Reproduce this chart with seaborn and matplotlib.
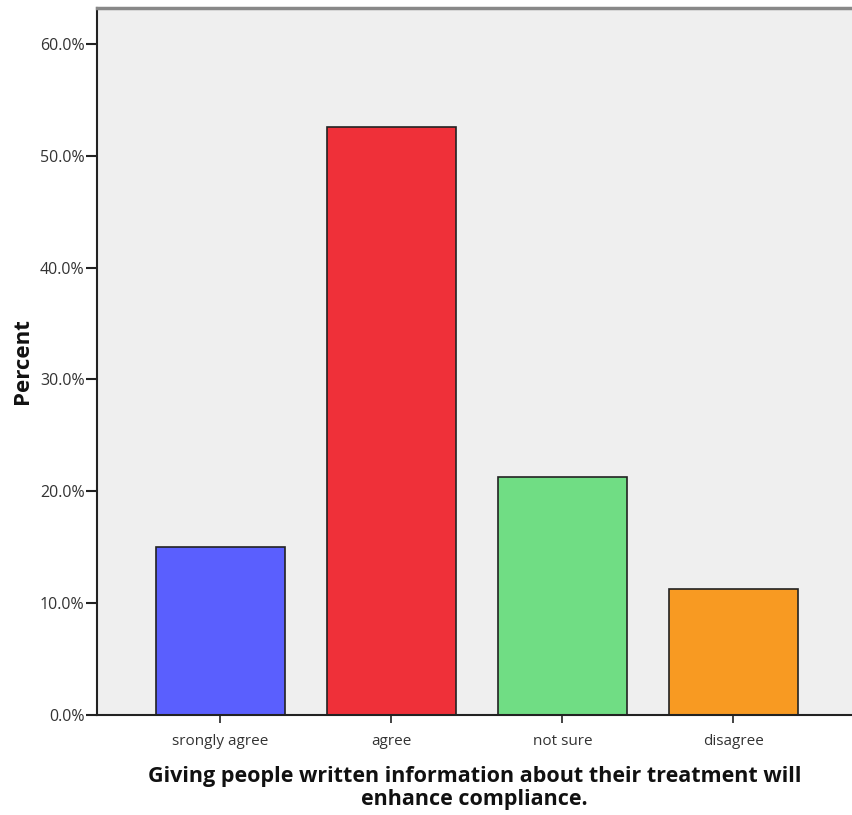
import matplotlib
matplotlib.use("Agg")
import matplotlib.pyplot as plt
import seaborn as sns
import pandas as pd

categories = ["srongly agree", "agree", "not sure", "disagree"]
percents = [15.0, 52.6, 21.3, 11.3]
colors = ["#5A5FFE", "#EF3039", "#70DD84", "#F89A22"]
yticks = [0, 10, 20, 30, 40, 50, 60]

sns.set_theme(style="white")
plt.rcParams['font.family'] = ['Open Sans', 'DejaVu Sans']

df = pd.DataFrame({"cat": categories, "pct": percents})

fig = plt.figure(figsize=(8.52, 8.15), dpi=100)
ax = fig.add_axes([97/852, 100/815, 1 - 97/852, 707/815])
ax.set_facecolor("#EFEFEF")

sns.barplot(data=df, x="cat", y="pct", hue="cat", palette=colors, legend=False,
            width=0.754, edgecolor="#222222", linewidth=1.2, ax=ax, saturation=1)

ax.set_xlim(-0.722, 3.693)
ax.set_ylim(0, 63.2)
ax.set_yticks(yticks)
ax.set_yticklabels([f"{v:.1f}%" for v in yticks], fontsize=11.5, color="#333333")
ax.set_xticks(range(len(categories)))
ax.set_xticklabels(categories, fontsize=11, color="#333333")
ax.tick_params(axis="y", left=True, direction="out", length=8, width=1.5, color="#222222", pad=1)
ax.tick_params(axis="x", bottom=True, direction="out", length=6, width=1.2, color="#222222", pad=8)

ax.set_ylabel("Percent", fontsize=16, fontweight="bold", labelpad=5, color="#111111")
ax.set_xlabel("Giving people written information about their treatment will\nenhance compliance.",
              fontsize=15.5, fontweight="bold", labelpad=12, color="#111111", linespacing=1.1)

for s in ["left", "bottom"]:
    ax.spines[s].set_color("#222222")
    ax.spines[s].set_linewidth(1.5)
ax.spines["top"].set_color("#888888")
ax.spines["top"].set_linewidth(2.5)
ax.spines["right"].set_visible(False)

fig.savefig("out.png", dpi=100)
